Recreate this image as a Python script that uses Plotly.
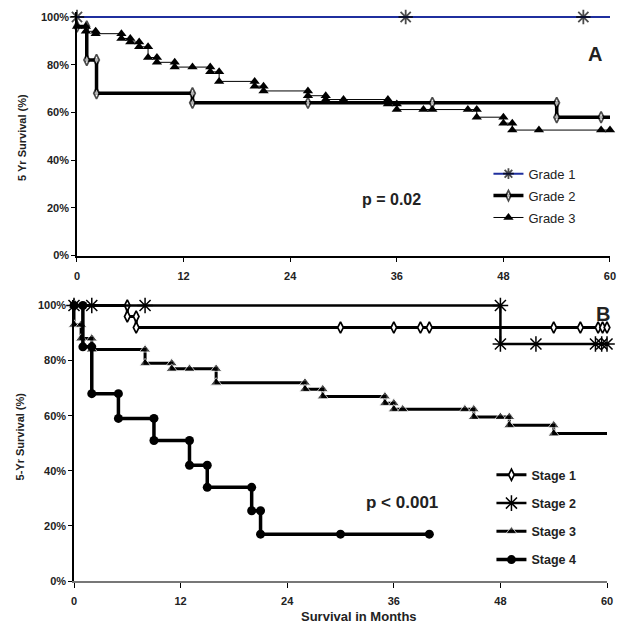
import plotly.graph_objects as go

# ---------------- data (months, survival %) ----------------
tick_months = [0, 12, 24, 36, 48, 60]
tick_pct = [0, 20, 40, 60, 80, 100]
tick_pct_labels = ["0%", "20%", "40%", "60%", "80%", "100%"]

grade1_x = [0, 37, 57, 60]
grade1_y = [100, 100, 100, 100]

grade2_x = [0, 1.1, 1.1, 2.2, 2.2, 13, 13, 26, 40, 54, 54, 59, 60]
grade2_y = [96, 96, 82, 82, 68, 68, 64, 64, 64, 64, 58, 58, 58]

grade3_x = [0, 1, 1, 2.1, 2.1, 5, 5, 6, 6, 7, 7, 8, 8, 9, 9, 11, 11, 13, 15, 15, 16, 16,
            20, 20, 21, 21, 26, 26, 28, 28, 30, 35, 35, 36, 36, 39, 40, 44, 45, 45, 48, 48,
            49, 49, 52, 59, 60]
grade3_y = [96, 96, 94, 94, 93, 93, 91, 91, 89.5, 89.5, 87.5, 87.5, 83, 83, 81, 81, 79, 79, 79, 77, 77, 73,
            73, 71, 71, 69, 69, 67, 67, 65.4, 65.4, 65.4, 63.5, 63.5, 61.2, 61.2, 61.2, 61.2, 61.2, 58, 58, 55.5,
            55.5, 52.6, 52.6, 52.6, 52.6]

stage1_x = [0, 6, 6, 7, 7, 30, 36, 39, 40, 54, 57, 59, 59.5, 60]
stage1_y = [100, 100, 96, 96, 92, 92, 92, 92, 92, 92, 92, 92, 92, 92]

stage2_x = [0, 2, 8, 48, 48, 52, 58.7, 59.4, 60]
stage2_y = [100, 100, 100, 100, 86, 86, 86, 86, 86]

stage3_x = [0, 0, 0.8, 0.8, 2, 2, 8, 8, 11, 11, 13, 16, 16, 26, 26, 28, 28, 35, 35, 36, 36, 37,
            44, 45, 45, 48, 49, 49, 54, 54, 60]
stage3_y = [100, 93, 93, 88, 88, 84, 84, 79, 79, 77, 77, 77, 72, 72, 69.6, 69.6, 67, 67, 64.5, 64.5, 62.3, 62.3,
            62.3, 62.3, 59.5, 59.5, 59.5, 56.5, 56.5, 53.5, 53.5]

stage4_x = [0, 1, 1, 2, 2, 5, 5, 9, 9, 13, 13, 15, 15, 20, 20, 21, 21, 30, 40]
stage4_y = [100, 100, 85, 85, 68, 68, 59, 59, 51, 51, 42, 42, 34, 34, 25.5, 25.5, 17, 17, 17]

# ---------------- geometry helpers ----------------
W, H = 624, 631
ML, MR, MT, MB = 74, 12, 8, 50
PW, PH = W - ML - MR, H - MT - MB


def px(xp):
    return (xp - ML) / PW


def py(yp):
    return (H - MB - yp) / PH


FONT = "Liberation Sans, Arial, Helvetica, sans-serif"


def sizes(n, s, last_visible=True):
    out = [s] * n
    if not last_visible:
        out[-1] = 0
    return out


fig = go.Figure()

# ---------------- top panel ----------------
fig.add_trace(go.Scatter(
    x=grade1_x, y=grade1_y, name="Grade 1", mode="lines+markers",
    line=dict(color="#1f2f9e", width=2),
    marker=dict(symbol="asterisk-open", size=sizes(len(grade1_x), 12, False),
                line=dict(color="black", width=1.8), color="black"),
    xaxis="x", yaxis="y", legend="legend", legendgroup="g1", cliponaxis=False))
fig.add_trace(go.Scatter(
    x=grade2_x, y=grade2_y, name="Grade 2", mode="lines+markers",
    line=dict(color="black", width=3.5),
    marker=dict(symbol="diamond-tall", size=sizes(len(grade2_x), 8, False), color="white",
                line=dict(color="black", width=1.7)),
    xaxis="x", yaxis="y", legend="legend", legendgroup="g2", cliponaxis=False))
fig.add_trace(go.Scatter(
    x=grade3_x, y=grade3_y, name="Grade 3", mode="lines+markers",
    line=dict(color="black", width=1),
    marker=dict(symbol="triangle-up", size=9, color="black"),
    xaxis="x", yaxis="y", legend="legend", legendgroup="g3", cliponaxis=False))

# ---------------- bottom panel ----------------
fig.add_trace(go.Scatter(
    x=stage1_x, y=stage1_y, name="Stage 1", mode="lines+markers",
    line=dict(color="black", width=3),
    marker=dict(symbol="diamond-tall", size=8, color="white", line=dict(color="black", width=1.7)),
    xaxis="x2", yaxis="y2", legend="legend2", legendgroup="s1", cliponaxis=False))
fig.add_trace(go.Scatter(
    x=stage2_x, y=stage2_y, name="Stage 2", mode="lines+markers",
    line=dict(color="black", width=2.5),
    marker=dict(symbol="asterisk-open", size=13, color="black", line=dict(color="black", width=1.5)),
    xaxis="x2", yaxis="y2", legend="legend2", legendgroup="s2", cliponaxis=False))
fig.add_trace(go.Scatter(
    x=stage3_x, y=stage3_y, name="Stage 3", mode="lines+markers",
    line=dict(color="black", width=3),
    marker=dict(symbol="triangle-up", size=sizes(len(stage3_x), 10, False), color="black"),
    xaxis="x2", yaxis="y2", legend="legend2", legendgroup="s3", cliponaxis=False))
fig.add_trace(go.Scatter(
    x=stage4_x, y=stage4_y, name="Stage 4", mode="lines+markers",
    line=dict(color="black", width=3.5),
    marker=dict(symbol="circle", size=9, color="black"),
    xaxis="x2", yaxis="y2", legend="legend2", legendgroup="s4", cliponaxis=False))

tickfont = dict(family=FONT, size=11, color="#222", weight="bold")
xcommon = dict(range=[0, 60], tickvals=tick_months, ticktext=[str(v) for v in tick_months],
               showgrid=False, zeroline=False, showline=True, linewidth=1.5,
               ticks="outside", ticklen=5, tickwidth=1, tickcolor="black", tickfont=tickfont,
               ticklabelstandoff=4)
ycommon = dict(range=[0, 102], tickvals=tick_pct, ticktext=tick_pct_labels,
               showgrid=False, zeroline=False, showline=True, linewidth=1.5, linecolor="black",
               ticks="outside", ticklen=4, tickwidth=1, tickcolor="black", tickfont=tickfont)


def ann(text, x, y, size, angle=0, weight="bold"):
    return dict(text=text, x=px(x), y=py(y), xref="paper", yref="paper", showarrow=False,
                xanchor="center", yanchor="middle", textangle=angle,
                font=dict(family=FONT, size=size, color="#222", weight=weight))


fig.update_layout(
    width=W, height=H,
    margin=dict(l=ML, r=MR, t=MT, b=MB),
    paper_bgcolor="white", plot_bgcolor="white",
    xaxis=dict(domain=[px(77), px(612)], anchor="y", linecolor="black", **xcommon),
    yaxis=dict(domain=[py(255), py(255 - 102 * 2.39)], anchor="x", **ycommon),
    xaxis2=dict(domain=[px(74), px(609)], anchor="y2", linecolor="#777", **xcommon),
    yaxis2=dict(domain=[py(581), py(581 - 102 * 2.76)], anchor="x2", **ycommon),
    legend=dict(x=px(490), y=py(158), xanchor="left", yanchor="top",
                font=dict(family=FONT, size=13, color="#222"),
                tracegroupgap=2, itemwidth=30, bgcolor="rgba(0,0,0,0)"),
    legend2=dict(x=px(493), y=py(460), xanchor="left", yanchor="top",
                 font=dict(family=FONT, size=12.5, color="#222", weight="bold"),
                 tracegroupgap=9, itemwidth=30, bgcolor="rgba(0,0,0,0)"),
    annotations=[
        ann("A", 597, 53, 20),
        ann("B", 605, 314, 20),
        ann("p = 0.02", 393, 199, 16),
        ann("p < 0.001", 403, 502, 17),
        ann("5 Yr Survival (%)", 22, 137, 11, -90),
        ann("5-Yr Survival (%)", 20, 436, 11, -90),
        ann("Survival in Months", 360, 617, 13),
    ],
)

fig.write_html("out.html", config={"displayModeBar": False},
               post_script="document.body.style.margin='0';document.body.style.padding='0';")
